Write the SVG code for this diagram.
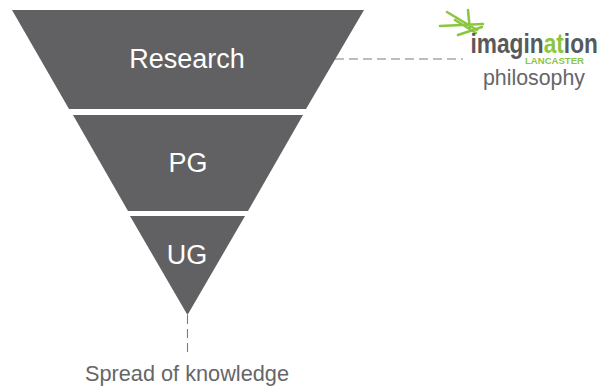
<svg xmlns="http://www.w3.org/2000/svg" width="599" height="387" viewBox="0 0 599 387">
<style>
.band{fill:#616062}
.lbl{font-family:"Liberation Sans",Arial,sans-serif;font-size:27px;fill:#fff;text-anchor:middle}
.cap{font-family:"Liberation Sans",Arial,sans-serif;fill:#666668}
.dash{fill:none;stroke:#7c7c7c;stroke-width:1.1;stroke-dasharray:9 5}
.star{stroke:#8cc63f;stroke-width:2.6;stroke-linecap:round;fill:none}
.logo{font-family:"Liberation Sans",Arial,sans-serif;font-weight:700;fill:#58595b}
.green{fill:#8cc63f}
</style>
<rect width="599" height="387" fill="#fff"/>
<g id="connectors">
<path class="dash" d="M335 59H463"/>
<path class="dash" d="M187.500 315V357"/>
</g>
<g id="research">
<polygon class="band" points="12,10 364,10 306,109 69,109"/>
<text class="lbl" x="187" y="68">Research</text>
</g>
<g id="pg">
<polygon class="band" points="73,115 303,115 248,211 128,211"/>
<text class="lbl" x="188" y="172">PG</text>
</g>
<g id="ug">
<polygon class="band" points="130,216 245,216 187.500,315"/>
<text class="lbl" x="187" y="264">UG</text>
</g>
<g id="logo">
<path class="star" d="M447 12L477 30M468 10L470 31M440 26L483 24M458 35L482 27M455 20L476 33"/>
<text class="logo" transform="translate(470.500 52.500) scale(1 1.200)" font-size="22.700">imagin<tspan class="green">at</tspan>ion</text>
<text class="green" x="525" y="63.500" font-family="Liberation Sans,sans-serif" font-weight="700" font-size="9" textLength="59" lengthAdjust="spacingAndGlyphs">LANCASTER</text>
</g>
<g id="philosophy">
<text class="cap" x="483" y="85" font-size="21.300" textLength="102" lengthAdjust="spacingAndGlyphs">philosophy</text>
</g>
<g id="spread">
<text class="cap" x="85" y="381" font-size="21.700" textLength="204" lengthAdjust="spacingAndGlyphs">Spread of knowledge</text>
</g>
</svg>
